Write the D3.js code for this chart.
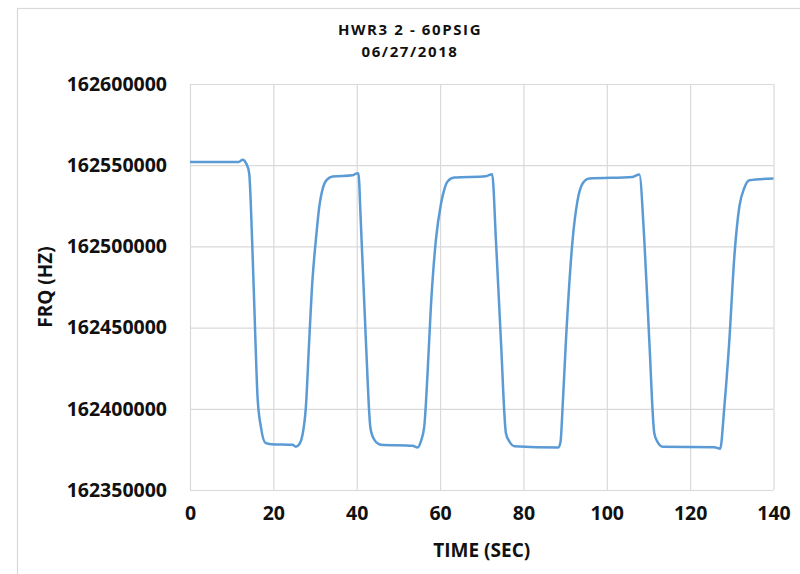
<!DOCTYPE html>
<html>
<head>
<meta charset="utf-8">
<script src="https://cdn.jsdelivr.net/npm/d3@7"></script>
<style>
  body { margin: 0; background: #fff; }
  svg text { font-family: "Open Sans", "Liberation Sans", sans-serif; font-weight: 700; fill: #111; }
</style>
</head>
<body>
<div id="chart"></div>
<script>
// title lines
const titleLines = ['HWR3 2 - 60PSIG', '06/27/2018'];

// axis ticks
const xTicks = [0, 20, 40, 60, 80, 100, 120, 140];
const yTicks = [162350000, 162400000, 162450000, 162500000, 162550000, 162600000];

// series
const timeSec = [
    0, 11.7, 12.6, 13.5, 14.2, 14.9, 15.7, 16.2, 17.0, 18.1, 19.5, 24.6, 25.4, 26.3,
    27.0, 27.8, 28.6, 29.4, 30.2, 31.0, 32.0, 32.8, 34.2, 39.0, 39.8, 40.4, 41.0, 42.2,
    43.3, 44.2, 45.8, 53.4, 54.6, 55.4, 56.2, 57.0, 57.8, 59.0, 60.2, 61.0, 61.8, 63.4,
    71.0, 72.5, 73.4, 74.6, 75.8, 76.6, 77.8, 88.4, 88.9, 89.4, 90.2, 91.8, 93.0, 94.2,
    95.8, 106.2, 107.8, 109.0, 110.2, 111.4, 112.2, 113.4, 125.8, 127.2, 128.2, 129.4,
    130.6, 131.8, 133.0, 134.2, 140
];
const freqHz = [
    162552000, 162552000, 162553300, 162551000, 162545000, 162504000, 162442000, 162407500,
    162389000, 162379000, 162378200, 162377800, 162376700, 162378500, 162384000, 162401000,
    162442000, 162480000, 162504000, 162524000, 162537000, 162541000, 162543000, 162543800,
    162544800, 162545000, 162514000, 162442000, 162388000, 162381000, 162377900, 162377200,
    162376200, 162380000, 162389000, 162422000, 162463000, 162504000, 162526000, 162535000,
    162540000, 162542400, 162543200, 162544500, 162504000, 162442000, 162385000, 162380000,
    162377000, 162376200, 162379500, 162401000, 162442000, 162504000, 162528500, 162538700,
    162541800, 162542800, 162544300, 162504000, 162442000, 162385000, 162379500, 162376700,
    162376400, 162375400, 162401000, 162442000, 162493600, 162524400, 162536000, 162540800,
    162541800
];

const width = 800, height = 574;
const margin = { left: 190, right: 26.5, top: 84, bottom: 84 };
const plotW = width - margin.left - margin.right;
const plotH = height - margin.top - margin.bottom;

const svg = d3.select('#chart')
    .append('svg')
    .attr('width', width)
    .attr('height', height);

// outer chart frame, runs off the right and bottom edges
svg.append('rect')
    .attr('x', 17.5).attr('y', 8.5)
    .attr('width', 900).attr('height', 700)
    .attr('fill', 'none')
    .attr('stroke', '#d9d9d9')
    .attr('stroke-width', 1.2);

const x = d3.scaleLinear().domain([0, 140]).range([0, plotW]);
const y = d3.scaleLinear().domain([162350000, 162600000]).range([plotH, 0]);

const g = svg.append('g')
    .attr('transform', `translate(${margin.left},${margin.top})`);

// grid
g.append('g')
    .call(d3.axisLeft(y).tickValues(yTicks).tickSize(-plotW).tickFormat(''))
    .call(s => s.select('.domain').remove())
    .call(s => s.selectAll('line').attr('stroke', '#d9d9d9').attr('stroke-width', 1.2));
g.append('g')
    .attr('transform', `translate(0,${plotH})`)
    .call(d3.axisBottom(x).tickValues(xTicks).tickSize(plotH).tickFormat(''))
    .call(s => s.select('.domain').remove())
    .call(s => s.selectAll('line').attr('stroke', '#d9d9d9').attr('stroke-width', 1.2)
        .attr('y2', -plotH));

// tick labels
g.append('g')
    .call(d3.axisLeft(y).tickValues(yTicks).tickSize(0).tickPadding(23).tickFormat(d3.format('d')))
    .call(s => s.select('.domain').remove())
    .call(s => s.selectAll('text').style('font-size', '19.5px').attr('fill', '#111'));
g.append('g')
    .attr('transform', `translate(0,${plotH})`)
    .call(d3.axisBottom(x).tickValues(xTicks).tickSize(0).tickPadding(16))
    .call(s => s.select('.domain').remove())
    .call(s => s.selectAll('text').style('font-size', '19.5px').attr('fill', '#111'));

// the series
const pts = timeSec.map((t, i) => [t, freqHz[i]]);
const line = d3.line()
    .x(d => x(d[0]))
    .y(d => y(d[1]))
    .curve(d3.curveMonotoneX);
g.append('path')
    .datum(pts)
    .attr('d', line)
    .attr('fill', 'none')
    .attr('stroke', '#5b9bd5')
    .attr('stroke-width', 2.5)
    .attr('stroke-linejoin', 'round');

// titles
svg.selectAll('.title')
    .data(titleLines)
    .enter()
    .append('text')
    .attr('class', 'title')
    .attr('x', 410)
    .attr('y', (d, i) => 35 + i * 22)
    .attr('text-anchor', 'middle')
    .style('font-size', '15px')
    .style('letter-spacing', '1.6px')
    .text(d => d);

svg.append('text')
    .attr('x', margin.left + plotW / 2)
    .attr('y', 557)
    .attr('text-anchor', 'middle')
    .style('font-size', '19px')
    .text('TIME (SEC)');

svg.append('text')
    .attr('transform', `translate(52,${margin.top + plotH / 2}) rotate(-90)`)
    .attr('text-anchor', 'middle')
    .style('font-size', '19px')
    .text('FRQ (HZ)');
</script>
</body>
</html>
